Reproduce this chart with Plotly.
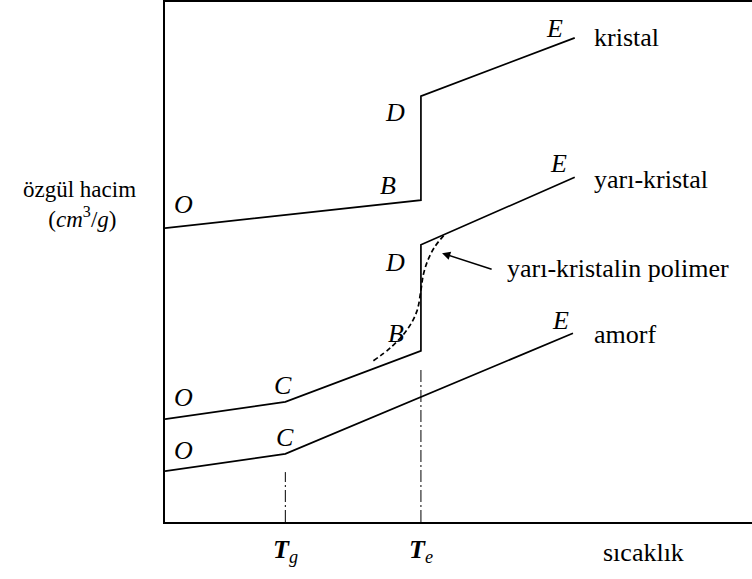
import plotly.graph_objects as go

# schematic specific volume vs temperature (arbitrary units, 0-100)
TG = 20.5   # camsi gecis sicakligi
TE = 43.6   # erime sicakligi

kristal_x = [0, TE, TE, 69.8]
kristal_y = [56.5, 61.9, 81.9, 93.1]

yari_x = [0, TG, TE, TE, 69.8]
yari_y = [19.8, 23.1, 32.9, 53.3, 66.3]

amorf_x = [0, TG, 69.5]
amorf_y = [9.8, 13.1, 36.3]

# gercek yari-kristalin polimer egrisi (kesikli)
polimer_x = [35.5, 38.5, 41.2, 42.9, 43.6, 44.0, 44.8, 46.0, 47.8]
polimer_y = [31.0, 33.6, 36.9, 40.5, 44.6, 47.5, 50.4, 53.0, 55.5]

FONT = "Liberation Serif, Times New Roman, serif"
FS = 26

fig = go.Figure()

line = dict(color="black", width=1.7)
fig.add_trace(go.Scatter(x=kristal_x, y=kristal_y, mode="lines", line=line))
fig.add_trace(go.Scatter(x=yari_x, y=yari_y, mode="lines", line=line))
fig.add_trace(go.Scatter(x=amorf_x, y=amorf_y, mode="lines", line=line))
fig.add_trace(go.Scatter(x=polimer_x, y=polimer_y, mode="lines", line_shape="spline",
                         line=dict(color="black", width=1.7, dash="5px,3px")))

# dash-dot guide lines at Tg and Te
fig.add_trace(go.Scatter(x=[TG, TG], y=[0, 9.6], mode="lines",
                         line=dict(color="black", width=1, dash="12px,3px,2px,3px")))
fig.add_trace(go.Scatter(x=[TE, TE], y=[0, 29.8], mode="lines",
                         line=dict(color="black", width=1, dash="12px,3px,2px,3px")))

letters = [
    ("O", 3.1, 61.0), ("B", 38.0, 64.8), ("D", 39.2, 78.7), ("E", 66.3, 95.0),
    ("E", 67.1, 69.0), ("D", 39.2, 50.0), ("B", 39.4, 36.3),
    ("O", 3.1, 24.0), ("C", 20.1, 26.3),
    ("O", 3.1, 13.8), ("C", 20.4, 16.2), ("E", 67.3, 38.8),
]
for t, x, y in letters:
    fig.add_annotation(x=x, y=y, text=f"<i>{t}</i>", showarrow=False,
                       font=dict(family=FONT, size=FS, color="black"))

names = [("kristal", 93.1), ("yarı-kristal", 65.8), ("amorf", 36.0)]
for t, y in names:
    fig.add_annotation(x=72.7, y=y, text=t, showarrow=False, xanchor="left",
                       font=dict(family=FONT, size=FS, color="black"))

fig.add_annotation(x=47.2, y=51.7, ax=55.9, ay=48.5, axref="x", ayref="y",
                   text="", showarrow=True, arrowhead=2, arrowsize=1.1,
                   arrowwidth=1.5, arrowcolor="black")
fig.add_annotation(x=57.9, y=48.8, text="yarı-kristalin polimer", showarrow=False,
                   xanchor="left", font=dict(family=FONT, size=FS, color="black"))

# x labels (below the frame)
for x, sub in [(TG, "g"), (TE, "e")]:
    fig.add_annotation(x=x, y=-0.056, yref="paper", yanchor="middle", xanchor="center",
                       text=f"<b><i>T</i></b><sub><i>{sub}</i></sub>", showarrow=False,
                       font=dict(family=FONT, size=FS, color="black"))
fig.add_annotation(x=74.3, y=-0.058, yref="paper", yanchor="middle", text="sıcaklık",
                   showarrow=False, xanchor="left",
                   font=dict(family=FONT, size=FS, color="black"))

# y label
fig.add_annotation(x=-0.145, xref="paper", xanchor="center", y=61.0, align="center",
                   text="özgül hacim<br> (<i>cm</i><sup>3</sup>/<i>g</i>)",
                   showarrow=False, font=dict(family=FONT, size=23, color="black"))

fig.update_layout(
    width=752, height=579,
    margin=dict(l=165, r=0, t=2, b=57),
    plot_bgcolor="white", paper_bgcolor="white",
    showlegend=False,
    xaxis=dict(range=[0, 100], showgrid=False, zeroline=False, showticklabels=False,
               ticks="", showline=True, mirror=True, linecolor="black", linewidth=1.5),
    yaxis=dict(range=[0, 100], showgrid=False, zeroline=False, showticklabels=False,
               ticks="", showline=True, linecolor="black", linewidth=1.5),
)

fig.write_html("out.html", config={"displayModeBar": False},
               post_script="document.body.style.margin='0';")
